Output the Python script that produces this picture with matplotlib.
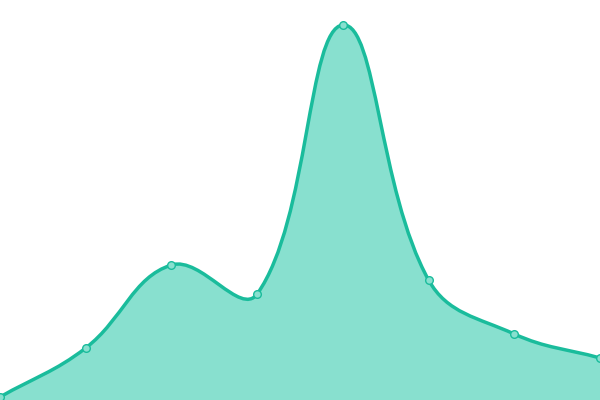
import numpy as np
import matplotlib
matplotlib.use("Agg")
import matplotlib.pyplot as plt
from matplotlib.path import Path
from matplotlib.patches import PathPatch

# data (value units, axis 0..400)
idx = [0, 1, 2, 3, 4, 5, 6, 7]
vals = [3, 52, 135, 106, 375, 120, 66, 42]

line_col = "#1abc9c"
fill_col = "#88e0cf"

W, H = 600, 400


def smooth_path(xs, ys, t=0.4):
    # spline with tension, control points from pixel distances
    p = np.column_stack([np.array(xs) * W / 7, ys]).astype(float)
    n = len(p)
    cin, cout = [], []
    for i in range(n):
        prev = p[i - 1] if i > 0 else p[i]
        nxt = p[i + 1] if i < n - 1 else p[i]
        d01 = np.hypot(*(p[i] - prev))
        d12 = np.hypot(*(nxt - p[i]))
        s = d01 + d12
        fa = t * d01 / s if s else 0
        fb = t * d12 / s if s else 0
        cin.append(p[i] - fa * (nxt - prev))
        cout.append(p[i] + fb * (nxt - prev))
    verts = [p[0]]
    codes = [Path.MOVETO]
    for i in range(1, n):
        verts += [cout[i - 1], cin[i], p[i]]
        codes += [Path.CURVE4] * 3
    verts = [(v[0] * 7 / W, v[1]) for v in verts]
    return verts, codes


fig = plt.figure(figsize=(6, 4), dpi=100)
ax = fig.add_axes([0, 0, 1, 1])
ax.set_xlim(0, 7)
ax.set_ylim(0, 400)
ax.axis("off")

verts, codes = smooth_path(idx, vals)
fv = verts + [(idx[-1], 0), (idx[0], 0), verts[0]]
fc = codes + [Path.LINETO, Path.LINETO, Path.CLOSEPOLY]
ax.add_patch(PathPatch(Path(fv, fc), facecolor=fill_col, edgecolor="none", zorder=1))
ax.add_patch(PathPatch(Path(verts, codes), facecolor="none", edgecolor=line_col,
                       lw=2.5, zorder=2, capstyle="round", joinstyle="round"))
ax.plot(idx, vals, "o", ms=5.5, mfc=fill_col, mec=line_col, mew=1, zorder=3, clip_on=False)

fig.savefig("out.png", dpi=100)
